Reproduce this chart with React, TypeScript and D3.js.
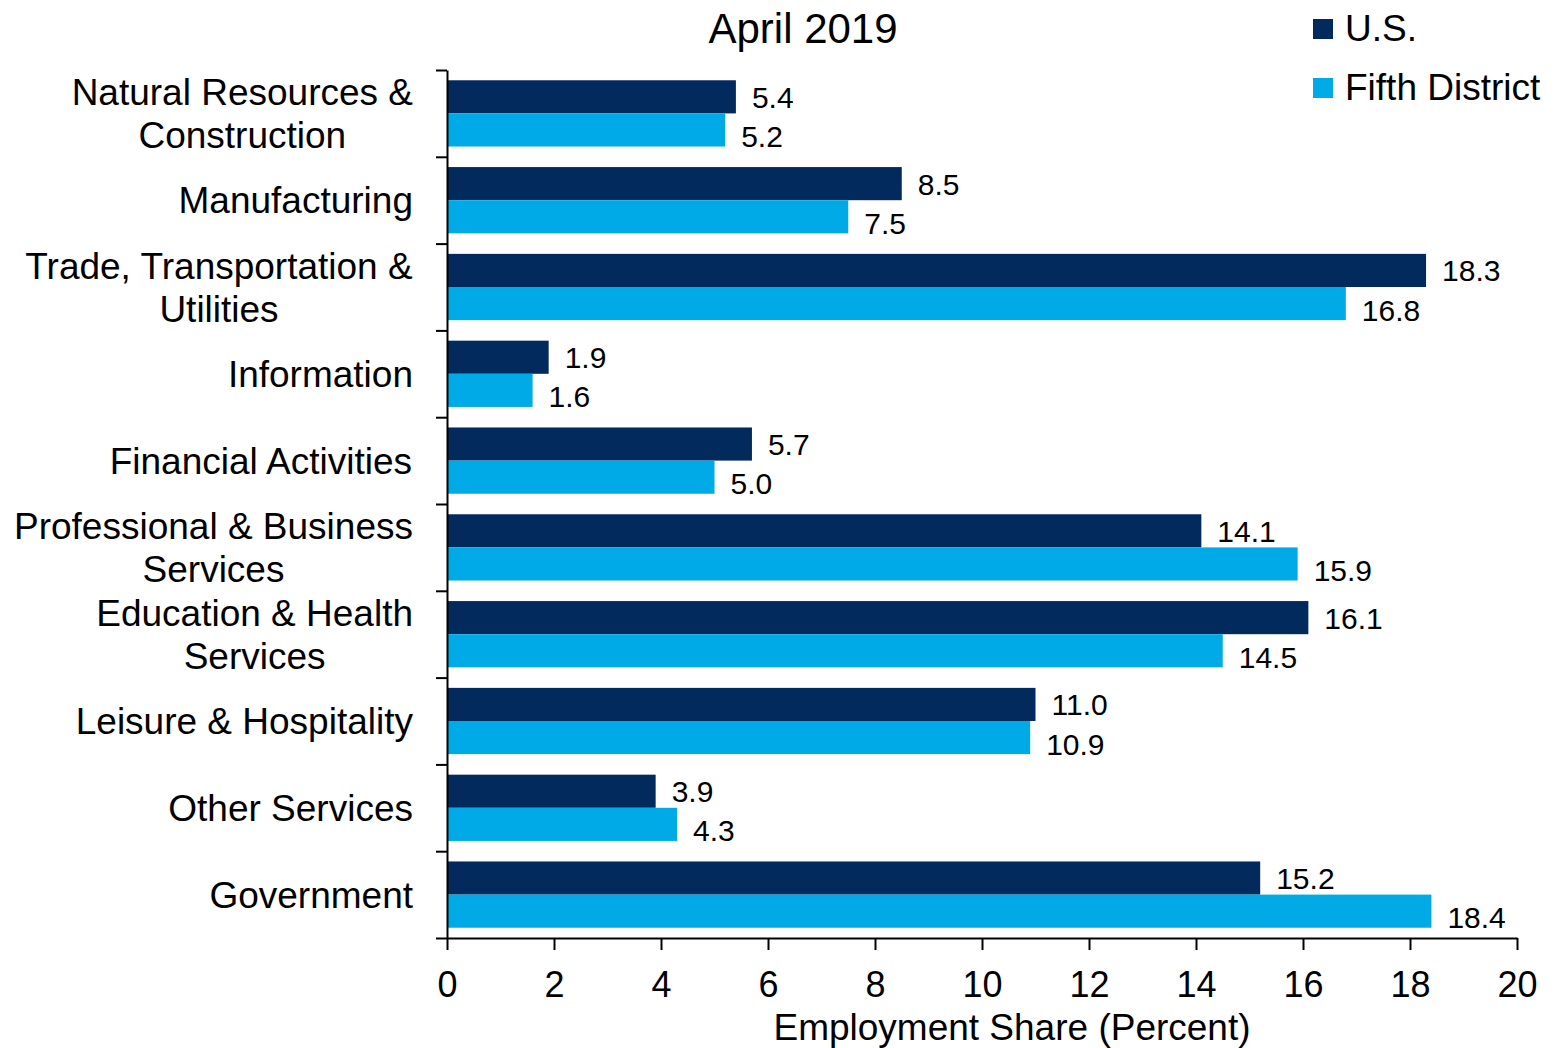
// @ts-nocheck
import * as d3 from "d3";
import { useRef, useEffect } from "react";

const categories = [
  "Natural Resources &\nConstruction",
  "Manufacturing",
  "Trade, Transportation &\nUtilities",
  "Information",
  "Financial Activities",
  "Professional & Business\nServices",
  "Education & Health\nServices",
  "Leisure & Hospitality",
  "Other Services",
  "Government",
];
const usValues = [5.4, 8.5, 18.3, 1.9, 5.7, 14.1, 16.1, 11.0, 3.9, 15.2];
const fifthValues = [5.2, 7.5, 16.8, 1.6, 5.0, 15.9, 14.5, 10.9, 4.3, 18.4];
const seriesNames = ["U.S.", "Fifth District"];
const seriesColors = ["#022a5c", "#00aae6"];
const xTickValues = [0, 2, 4, 6, 8, 10, 12, 14, 16, 18, 20];
const title = "April 2019";
const xTitle = "Employment Share (Percent)";

const FONT = '"Liberation Sans", Arial, sans-serif';

function measure(text, size) {
  const ctx = document.createElement("canvas").getContext("2d");
  ctx.font = `${size}px "Liberation Sans"`;
  return ctx.measureText(text).width;
}

export default function App() {
  const width = 1556;
  const height = 1048;
  const marginLeft = 447;
  const marginRight = 39;
  const marginTop = 70;
  const marginBottom = 110;

  const gx = useRef();
  const gy = useRef();

  const x = d3.scaleLinear([0, 20], [marginLeft, width - marginRight]);
  const y = d3
    .scaleBand()
    .domain(categories)
    .range([marginTop, height - marginBottom])
    .padding(0);
  const yEdge = d3.scaleLinear([0, categories.length], [marginTop, height - marginBottom]);
  const inner = d3
    .scaleBand()
    .domain(seriesNames)
    .range([0, y.bandwidth()])
    .paddingInner(0)
    .paddingOuter(0.31);

  useEffect(() => {
    const g = d3.select(gx.current);
    g.call(
      d3.axisBottom(x).tickValues(xTickValues).tickSize(12).tickSizeOuter(0).tickPadding(21)
    );
    g.selectAll("path, line").attr("stroke", "#000").attr("stroke-width", 2);
    g.selectAll("text").attr("font-family", FONT).attr("font-size", 36).attr("fill", "#000");
    g.attr("font-family", null).attr("font-size", null);
  }, []);

  useEffect(() => {
    const g = d3.select(gy.current);
    g.call(
      d3
        .axisLeft(yEdge)
        .tickValues(d3.range(categories.length + 1))
        .tickSize(11)
        .tickSizeOuter(0)
        .tickFormat(() => "")
    );
    g.selectAll("path, line").attr("stroke", "#000").attr("stroke-width", 2);
  }, []);

  const series = [usValues, fifthValues];
  const labelSize = 37;
  const lineGap = 43;
  const labelRight = 413;

  return (
    <svg
      width={width}
      height={height}
      style={{ position: "absolute", left: 0, top: 0, background: "#fff" }}
      fontFamily={FONT}
    >
      <text x={803} y={43} fontSize={42} textAnchor="middle" fill="#000">
        {title}
      </text>

      {/* legend */}
      {seriesNames.map((name, i) => (
        <g key={name} transform={`translate(1313,${19 + i * 59})`}>
          <rect width={20} height={20} fill={seriesColors[i]} />
          <text x={32} y={22} fontSize={37} fill="#000">
            {name}
          </text>
        </g>
      ))}

      {/* bars */}
      {series.map((vals, si) =>
        vals.map((v, ci) => (
          <rect
            key={`b${si}-${ci}`}
            x={x(0)}
            y={y(categories[ci]) + inner(seriesNames[si])}
            width={x(v) - x(0)}
            height={inner.bandwidth()}
            fill={seriesColors[si]}
          />
        ))
      )}

      {/* value labels */}
      {series.map((vals, si) =>
        vals.map((v, ci) => (
          <text
            key={`l${si}-${ci}`}
            x={x(v) + 16}
            y={y(categories[ci]) + inner(seriesNames[si]) + inner.bandwidth() / 2 + 11 + (si === 1 ? 6 : 0)}
            fontSize={30}
            fill="#000"
          >
            {v.toFixed(1)}
          </text>
        ))
      )}

      {/* category labels */}
      {categories.map((c) => {
        const lines = c.split("\n");
        const maxW = d3.max(lines, (l) => measure(l, labelSize));
        const cx = labelRight - maxW / 2;
        const cy = y(c) + y.bandwidth() / 2;
        const first = cy - ((lines.length - 1) * lineGap) / 2 + 13;
        return (
          <text key={c} fontSize={labelSize} textAnchor="middle" fill="#000">
            {lines.map((l, i) => (
              <tspan key={i} x={cx} y={first + i * lineGap}>
                {l}
              </tspan>
            ))}
          </text>
        );
      })}

      <g ref={gx} transform={`translate(0,${height - marginBottom})`} />
      <g ref={gy} transform={`translate(${marginLeft},0)`} />

      <text x={1012} y={1040} fontSize={37} textAnchor="middle" fill="#000">
        {xTitle}
      </text>
    </svg>
  );
}
